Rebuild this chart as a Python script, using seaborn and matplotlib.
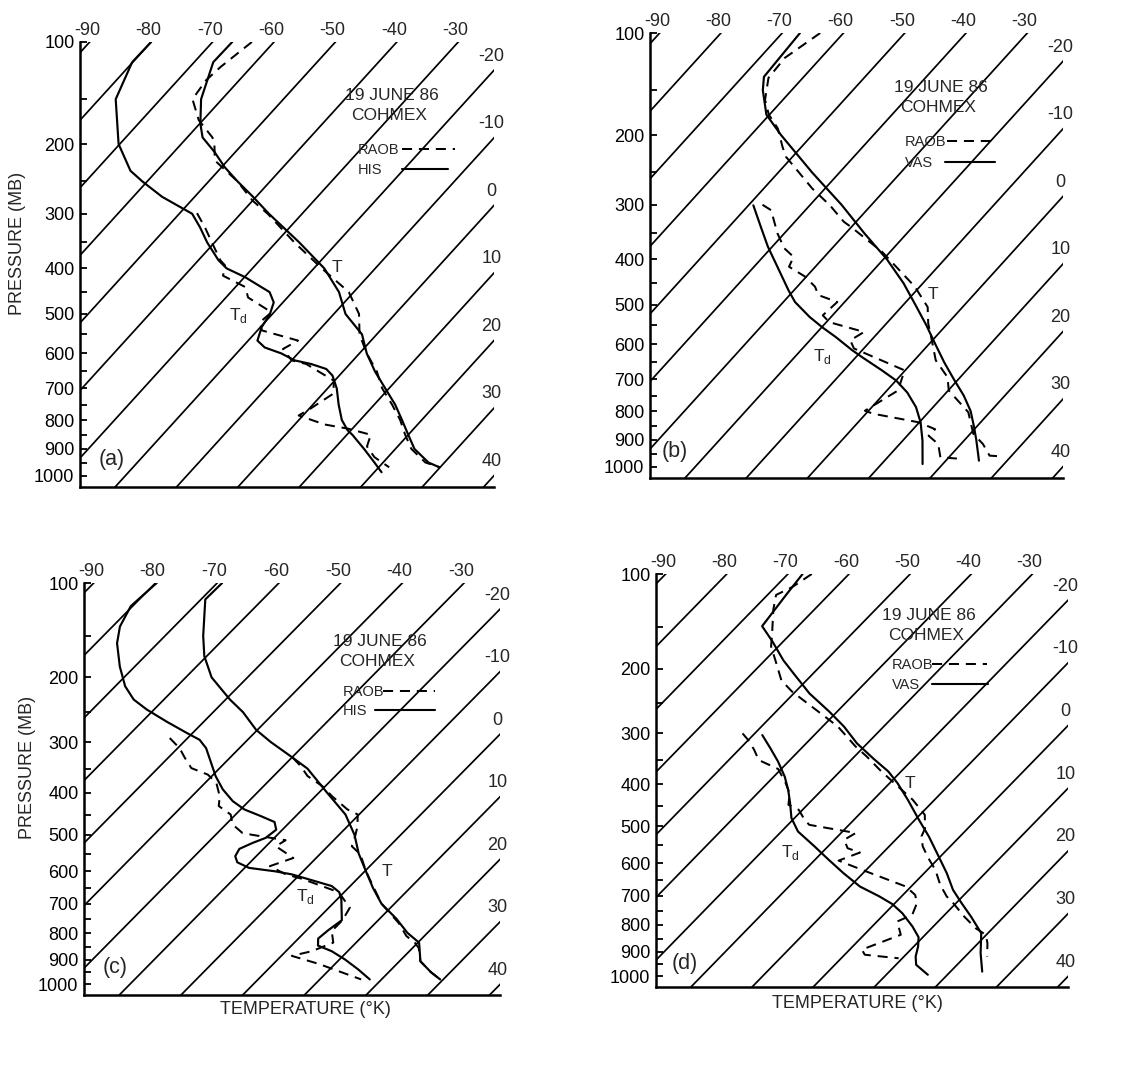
import numpy as np
import pandas as pd
import matplotlib
matplotlib.use("Agg")
import matplotlib.pyplot as plt
from matplotlib.lines import Line2D
import seaborn as sns

# ---------------- data (temperature in deg C, pressure in mb) ----------------
isotherms = list(range(-90, 41, 10))
pressure_ticks = [100, 200, 300, 400, 500, 600, 700, 800, 900, 1000]
pressure_minor = [150, 250, 350, 450, 550, 650, 750, 850, 950]

# panel (a)  HIS vs RAOB
a_his_t_p = [100, 116, 150, 176, 192, 210, 230, 250, 273, 300, 350, 400, 450, 500, 550, 600, 650, 700, 750, 800, 850, 900, 950, 966]
a_his_t_T = [-66.8, -66.9, -63.4, -59.9, -57.5, -53.4, -49.5, -45.3, -40.5, -35.4, -26.2, -18.3, -12.4, -8.1, -2.4, 1.2, 5.2, 9.4, 13.4, 16.8, 20.0, 23.1, 27.4, 29.6]
a_raob_t_p = [100, 120, 132, 150, 172, 192, 200, 221, 250, 279, 300, 350, 400, 450, 500, 550, 600, 650, 700, 750, 800, 850, 900, 950, 968]
a_raob_t_T = [-63.6, -65.0, -65.4, -64.8, -60.7, -55.9, -54.6, -52.1, -45.3, -40.0, -35.6, -27.0, -18.7, -10.8, -5.9, -2.8, 1.2, 5.5, 8.9, 12.9, 16.5, 19.5, 22.6, 26.9, 30.0]
a_his_td_p = [100, 116, 150, 200, 235, 250, 273, 300, 323, 350, 384, 400, 418, 439, 450, 473, 500, 532, 566, 584, 600, 619, 629, 643, 662, 700, 750, 800, 835, 850, 900, 950, 987]
a_his_td_T = [-80.0, -80.1, -77.3, -70.2, -64.3, -60.8, -55.3, -47.9, -44.6, -41.2, -36.7, -34.2, -29.9, -25.8, -23.7, -21.5, -20.4, -19.8, -18.5, -16.3, -12.7, -9.5, -6.3, -3.1, -1.1, 1.5, 4.2, 7.0, 9.5, 10.9, 14.9, 18.6, 21.2]
a_raob_td_p = [299, 323, 347, 384, 394, 415, 439, 462, 496, 520, 540, 566, 588, 619, 629, 677, 716, 763, 785, 815, 829, 850, 891, 930, 968]
a_raob_td_T = [-47.2, -43.8, -40.8, -36.4, -34.9, -33.7, -28.4, -26.4, -20.4, -20.8, -19.3, -11.9, -13.1, -10.0, -7.1, -0.1, 1.7, 0.2, -0.7, 4.9, 9.3, 13.9, 15.0, 17.8, 21.7]

# panel (b)  VAS vs RAOB
b_vas_t_p = [100, 137, 150, 176, 200, 250, 300, 350, 400, 450, 500, 550, 600, 650, 700, 750, 800, 850, 900, 950, 977]
b_vas_t_T = [-67.1, -66.5, -64.7, -60.5, -55.1, -44.5, -34.9, -26.9, -19.4, -13.2, -8.0, -3.2, 1.1, 5.2, 9.3, 13.3, 16.7, 19.4, 21.9, 24.2, 25.4]
b_raob_t_p = [100, 120, 138, 160, 176, 192, 215, 228, 274, 301, 329, 338, 385, 458, 505, 545, 589, 644, 693, 734, 804, 878, 915, 958, 961]
b_raob_t_T = [-63.8, -65.9, -65.6, -62.9, -60.1, -56.6, -53.1, -51.1, -42.1, -36.7, -32.0, -30.1, -21.3, -10.8, -5.7, -3.2, -0.1, 3.5, 7.9, 10.1, 16.5, 20.5, 23.6, 26.4, 28.7]
b_vas_td_p = [301, 338, 375, 415, 466, 493, 529, 555, 580, 616, 635, 673, 703, 740, 787, 838, 902, 990]
b_vas_td_T = [-49.2, -44.8, -40.7, -36.2, -30.9, -28.1, -23.5, -19.9, -16.3, -11.6, -9.0, -3.8, 0.0, 3.6, 7.2, 10.2, 13.2, 16.7]
b_raob_td_p = [300, 309, 350, 378, 395, 415, 436, 458, 477, 493, 525, 542, 567, 589, 611, 673, 734, 799, 809, 838, 862, 885, 915, 964, 969]
b_raob_td_T = [-47.8, -45.6, -41.1, -37.8, -35.0, -34.3, -30.2, -27.1, -25.3, -21.2, -21.6, -19.5, -12.4, -13.4, -11.6, -0.1, 1.8, -0.6, 1.2, 9.9, 13.6, 13.5, 16.3, 18.6, 21.5]

# panel (c)  HIS vs RAOB
c_his_t_p = [100, 114, 150, 173, 200, 231, 250, 279, 300, 329, 350, 400, 450, 500, 550, 600, 650, 700, 750, 800, 835, 850, 906, 950, 979]
c_his_t_T = [-69.2, -69.3, -63.8, -60.4, -55.8, -49.3, -45.2, -40.2, -35.9, -29.8, -25.7, -18.7, -12.2, -7.5, -3.8, 0.2, 4.0, 7.9, 12.7, 16.8, 20.2, 20.9, 23.4, 26.9, 29.5]
c_raob_t_p = [329, 345, 365, 386, 408, 438, 450, 482, 503, 530, 552, 600, 700, 764, 811, 835, 855, 906, 950, 979]
c_raob_t_T = [-29.8, -27.2, -24.5, -20.5, -17.3, -12.7, -10.2, -8.2, -7.2, -6.1, -3.4, 0.2, 7.9, 13.7, 17.1, 19.5, 21.0, 23.4, 26.9, 29.5]
c_his_td_p = [100, 120, 140, 158, 186, 212, 231, 246, 265, 284, 296, 311, 339, 365, 393, 419, 438, 454, 468, 487, 508, 521, 537, 557, 574, 590, 600, 609, 632, 644, 663, 686, 755, 790, 820, 846, 867, 899, 938, 979]
c_his_td_T = [-79.8, -80.3, -78.8, -76.6, -72.4, -68.4, -64.9, -61.2, -56.1, -51.0, -47.8, -45.4, -42.2, -39.4, -36.1, -32.6, -29.4, -25.6, -22.5, -21.0, -21.4, -22.7, -23.9, -23.4, -22.1, -19.3, -14.5, -11.3, -5.8, -3.0, -0.8, 0.7, 4.1, 3.5, 3.2, 4.3, 7.4, 10.9, 14.6, 18.1]
c_raob_td_p = [293, 311, 329, 349, 362, 379, 408, 430, 450, 474, 495, 500, 514, 530, 562, 585, 609, 622, 663, 713, 755, 793, 835, 867, 885, 916, 979]
c_raob_td_T = [-52.9, -49.7, -47.3, -44.6, -40.9, -38.2, -35.5, -34.1, -30.8, -28.9, -26.0, -24.1, -17.8, -18.4, -13.7, -16.2, -12.3, -9.0, -0.9, 3.4, 4.2, 4.2, 6.3, 4.2, 1.7, 7.3, 16.7]

# panel (d)  VAS vs RAOB
d_vas_t_p = [100, 117, 149, 166, 189, 206, 235, 263, 288, 318, 347, 373, 398, 435, 483, 526, 581, 630, 682, 725, 771, 830, 906, 980]
d_vas_t_T = [-67.6, -67.0, -65.9, -61.8, -57.0, -53.3, -47.4, -41.3, -36.5, -31.7, -26.6, -22.1, -18.7, -14.4, -9.4, -5.1, -0.3, 3.7, 7.4, 10.9, 14.6, 18.9, 22.0, 25.2]
d_raob_t_p = [100, 111, 118, 132, 157, 172, 189, 216, 232, 266, 288, 324, 343, 370, 395, 435, 471, 505, 526, 553, 586, 620, 666, 703, 719, 771, 812, 836, 867, 919]
d_raob_t_T = [-66.1, -67.2, -68.6, -66.7, -63.1, -61.2, -58.3, -54.1, -50.6, -42.4, -37.5, -31.4, -28.0, -23.7, -19.7, -13.6, -9.2, -7.0, -6.3, -4.5, -1.7, 1.3, 4.5, 7.4, 9.0, 13.5, 17.2, 19.9, 21.5, 23.6]
d_vas_td_p = [303, 327, 353, 384, 413, 443, 479, 513, 553, 591, 630, 671, 703, 728, 759, 806, 845, 880, 919, 952, 993]
d_vas_td_T = [-48.5, -45.1, -41.7, -38.2, -35.5, -33.1, -30.5, -27.3, -22.2, -17.7, -13.2, -8.4, -3.6, -0.3, 2.8, 6.6, 9.3, 10.7, 11.9, 13.3, 16.8]
d_raob_td_p = [300, 312, 330, 350, 368, 398, 421, 447, 459, 483, 496, 517, 535, 558, 570, 593, 620, 671, 698, 725, 765, 788, 836, 892, 912, 926]
d_raob_td_T = [-52.0, -50.0, -47.5, -45.1, -40.5, -37.0, -34.7, -33.1, -30.6, -28.1, -26.5, -17.6, -18.4, -16.5, -13.8, -16.0, -10.7, -0.9, 2.0, 3.6, 4.7, 3.3, 6.0, 2.0, 3.3, 9.4]

# ---------------- chart geometry (skewed diagram) ----------------
KAPPA = 0.286
SKEW = 18.45
P_TOP, P_BOT = 100, 1045
X_MIN, X_MAX = -27.4, 40.0


def skew_x(T, p):
    return np.asarray(T, float) + SKEW * (1000.0 ** KAPPA - np.asarray(p, float) ** KAPPA)


def fwd(p):
    return np.power(np.clip(np.asarray(p, float), 1e-6, None), KAPPA)


def inv(y):
    return np.power(np.clip(np.asarray(y, float), 1e-6, None), 1.0 / KAPPA)


sns.set_theme(style="white")
plt.rcParams["font.family"] = ["Liberation Sans", "DejaVu Sans"]
plt.rcParams["mathtext.fontset"] = "custom"
plt.rcParams["mathtext.rm"] = "Liberation Sans"

W, H = 1123, 1066
fig = plt.figure(figsize=(W / 100, H / 100), dpi=100)
fig.patch.set_facecolor("white")


def fx(px):
    return px / W


def fy(py):
    return 1 - py / H


panels = [
    dict(rect=(80, 42, 494, 487), name="HIS", tag="(a)",
         curves=[(a_his_t_p, a_his_t_T, "-"), (a_raob_t_p, a_raob_t_T, "--"),
                 (a_his_td_p, a_his_td_T, "-"), (a_raob_td_p, a_raob_td_T, "--")],
         date=(392, 96), leg=(358, 150, 402, 455, 170, 402, 448), tpos=(337, 267), tdpos=(238, 316),
         tagpos=(112, 460), ylabel=(18, 243), xlabel=None),
    dict(rect=(650, 33, 1063, 478), name="VAS", tag="(b)",
         curves=[(b_vas_t_p, b_vas_t_T, "-"), (b_raob_t_p, b_raob_t_T, "--"),
                 (b_vas_td_p, b_vas_td_T, "-"), (b_raob_td_p, b_raob_td_T, "--")],
         date=(941, 88), leg=(905, 142, 947, 997, 163, 945, 995), tpos=(933, 295), tdpos=(822, 357),
         tagpos=(675, 452), ylabel=None, xlabel=None),
    dict(rect=(84, 583, 500, 995), name="HIS", tag="(c)",
         curves=[(c_his_t_p, c_his_t_T, "-"), (c_raob_t_p, c_raob_t_T, "--"),
                 (c_his_td_p, c_his_td_T, "-"), (c_raob_td_p, c_raob_td_T, "--")],
         date=(380, 642), leg=(343, 692, 383, 435, 711, 375, 435), tpos=(387, 872), tdpos=(305, 897),
         tagpos=(115, 968), ylabel=(27, 767), xlabel=(305, 1010)),
    dict(rect=(656, 574, 1068, 987), name="VAS", tag="(d)",
         curves=[(d_vas_t_p, d_vas_t_T, "-"), (d_raob_t_p, d_raob_t_T, "--"),
                 (d_vas_td_p, d_vas_td_T, "-"), (d_raob_td_p, d_raob_td_T, "--")],
         date=(929, 616), leg=(892, 665, 932, 987, 685, 932, 988), tpos=(910, 783), tdpos=(790, 853),
         tagpos=(685, 963), ylabel=None, xlabel=(857, 1003)),
]

DASH = (5.0, 3.4)

for pn in panels:
    x0, y0, x1, y1 = pn["rect"]
    ax = fig.add_axes([fx(x0), fy(y1), fx(x1 - x0), (y1 - y0) / H])
    ax.set_facecolor("white")

    # isotherms
    for T0 in isotherms:
        pp = [80, 1200]
        ax.plot(skew_x([T0, T0], pp), pp, color="black", lw=1.25, solid_capstyle="butt")

    # profiles
    for p_list, T_list, ls in pn["curves"]:
        df = pd.DataFrame({"p": p_list, "T": T_list})
        df["X"] = skew_x(df["T"], df["p"])
        sns.lineplot(data=df, x="X", y="p", ax=ax, sort=False, estimator=None,
                     color="black", linewidth=1.55 if ls == "-" else 1.45)
        if ls == "--":
            ax.lines[-1].set_dashes(DASH)

    ax.set_yscale("function", functions=(fwd, inv))
    ax.set_xlim(X_MIN, X_MAX)
    ax.set_ylim(P_BOT, P_TOP)
    ax.set_xticks([])
    ax.set_yticks(pressure_ticks)
    ax.set_yticklabels([str(v) for v in pressure_ticks])
    ax.set_yticks(pressure_minor, minor=True)
    ax.yaxis.set_minor_formatter(matplotlib.ticker.NullFormatter())
    ax.tick_params(axis="y", which="both", direction="in", length=5, width=1.3,
                   pad=4, labelsize=13, colors="black", left=True)
    ax.set_xlabel("")
    ax.set_ylabel("")
    for s in ("top", "right"):
        ax.spines[s].set_visible(False)
    for s in ("left", "bottom"):
        ax.spines[s].set_linewidth(1.8)
        ax.spines[s].set_color("black")

    # isotherm labels
    for T0 in isotherms:
        xt = float(skew_x(T0, P_TOP))
        if xt <= X_MAX:
            ax.annotate(str(T0), (xt, P_TOP), xytext=(-2, 2), textcoords="offset points",
                        ha="center", va="bottom", fontsize=13, annotation_clip=False)
        else:
            yv = 1000.0 ** KAPPA - (X_MAX - T0) / SKEW
            pe = yv ** (1.0 / KAPPA)
            ax.annotate(str(T0), (X_MAX, pe), xytext=(-2, 4), textcoords="offset points",
                        ha="center", va="bottom", fontsize=13, annotation_clip=False)

    # annotations
    dx, dy = pn["date"]
    fig.text(fx(dx), fy(dy), "19 JUNE 86", ha="center", va="center", fontsize=12.5)
    fig.text(fx(dx - 3), fy(dy + 20), "COHMEX", ha="center", va="center", fontsize=12.5)

    lx, ly1, l1a, l1b, ly2, l2a, l2b = pn["leg"]
    fig.text(fx(lx), fy(ly1), "RAOB", ha="left", va="center", fontsize=10.5)
    fig.text(fx(lx), fy(ly2), pn["name"], ha="left", va="center", fontsize=10.5)
    ln1 = Line2D([fx(l1a), fx(l1b)], [fy(ly1 - 1), fy(ly1 - 1)], transform=fig.transFigure,
                 color="black", lw=1.45)
    ln1.set_dashes(DASH)
    fig.add_artist(ln1)
    fig.add_artist(Line2D([fx(l2a), fx(l2b)], [fy(ly2 - 1), fy(ly2 - 1)], transform=fig.transFigure,
                          color="black", lw=1.5))

    fig.text(fx(pn["tpos"][0]), fy(pn["tpos"][1]), "T", ha="center", va="center", fontsize=12.5)
    fig.text(fx(pn["tdpos"][0]), fy(pn["tdpos"][1]), r"T$_\mathregular{d}$", ha="center",
             va="center", fontsize=12.5)
    fig.text(fx(pn["tagpos"][0]), fy(pn["tagpos"][1]), pn["tag"], ha="center", va="center",
             fontsize=15.5)
    if pn["ylabel"] is not None:
        fig.text(fx(pn["ylabel"][0]), fy(pn["ylabel"][1]), "PRESSURE (MB)", rotation=90,
                 ha="center", va="center", fontsize=13)
    if pn["xlabel"] is not None:
        fig.text(fx(pn["xlabel"][0]), fy(pn["xlabel"][1]), "TEMPERATURE (°K)",
                 ha="center", va="center", fontsize=13)

fig.savefig("out.png", dpi=100, facecolor="white")
